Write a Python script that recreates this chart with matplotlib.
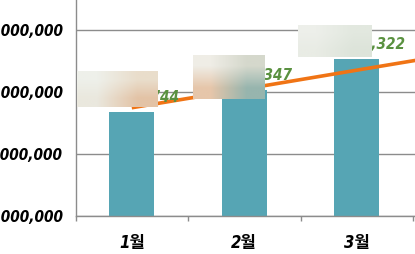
import numpy as np
import matplotlib.pyplot as plt
from matplotlib.colors import to_rgb

plt.rcParams['font.family'] = ['DejaVu Sans', 'Noto Sans CJK KR']

months = ['1월', '2월', '3월']
sales = [267512744, 303418347, 352806322]
# trend line keeps going into the next month (cut at the right edge)
trend = [274800000, 304900000, 335300000, 365500000]
yticks = [100000000, 200000000, 300000000, 400000000]

W, H = 415, 254
fig = plt.figure(figsize=(W / 100, H / 100), dpi=100)
ax = fig.add_axes([75.5 / W, (H - 216.3) / H, (W - 75.5) / W, 216.3 / H])

x = np.arange(len(months))
ax.bar(x, sales, width=0.4, color='#56A5B4', zorder=2)
ax.plot(np.arange(len(trend)), trend, color='#F07415', lw=2.6, zorder=3,
        solid_capstyle='butt')

for xi, v in zip(x, sales):
    ax.annotate(f'{v:,}', (xi, v), xytext=(0, 7.5), textcoords='offset points',
                ha='center', va='baseline', color='#5A9140', fontsize=11,
                fontweight='bold', fontstyle='italic', fontstretch='condensed',
                zorder=4)

ax.set_ylim(100000000, 100000000 + 216.3 / 62.1 * 100000000)
ax.set_xlim(-0.5, -0.5 + (W - 75.5) / 112.5)

ax.set_yticks(yticks)
ax.set_yticklabels([f'{t:,}' for t in yticks], fontsize=11,
                   fontweight='bold', fontstyle='italic',
                   fontstretch='condensed')
ax.tick_params(axis='y', length=0, pad=9)
ax.yaxis.grid(True, color='#8C8C8C', lw=1)
ax.set_axisbelow(True)

ax.set_xticks([-0.5, 0.5, 1.5, 2.5])
ax.set_xticklabels([])
ax.tick_params(axis='x', which='major', length=3.6, color='#8C8C8C', width=1)
ax.set_xticks(x, minor=True)
ax.set_xticklabels(months, minor=True, fontsize=12, fontweight='heavy',
                   fontstyle='italic', fontstretch='condensed')
ax.tick_params(axis='x', which='minor', length=0, pad=12.5)

for s in ['top', 'right']:
    ax.spines[s].set_visible(False)
for s in ['left', 'bottom']:
    ax.spines[s].set_color('#8C8C8C')
    ax.spines[s].set_linewidth(1)

# blurred patches covering the front of the value labels
patches = [
    ((77, 71, 157, 107), ['#EEF0EA', '#E9DDCB', '#EAE8DE', '#E3C3A6']),
    ((193, 55, 264, 99), ['#EFEDE6', '#D5D8CC', '#E6C6AA', '#97B5AE']),
    ((298, 25, 372, 57), ['#EDEFEA', '#E2E8DF', '#E9ECE5', '#DDE4DA']),
]
for (x0, y0, x1, y1), cols in patches:
    pax = fig.add_axes([x0 / W, (H - y1) / H, (x1 - x0) / W, (y1 - y0) / H])
    img = np.array([[to_rgb(cols[0]), to_rgb(cols[1])],
                    [to_rgb(cols[2]), to_rgb(cols[3])]])
    pax.imshow(img, aspect='auto', interpolation='bilinear',
               extent=(0, 1, 0, 1))
    pax.axis('off')

fig.savefig('out.png', dpi=100)
